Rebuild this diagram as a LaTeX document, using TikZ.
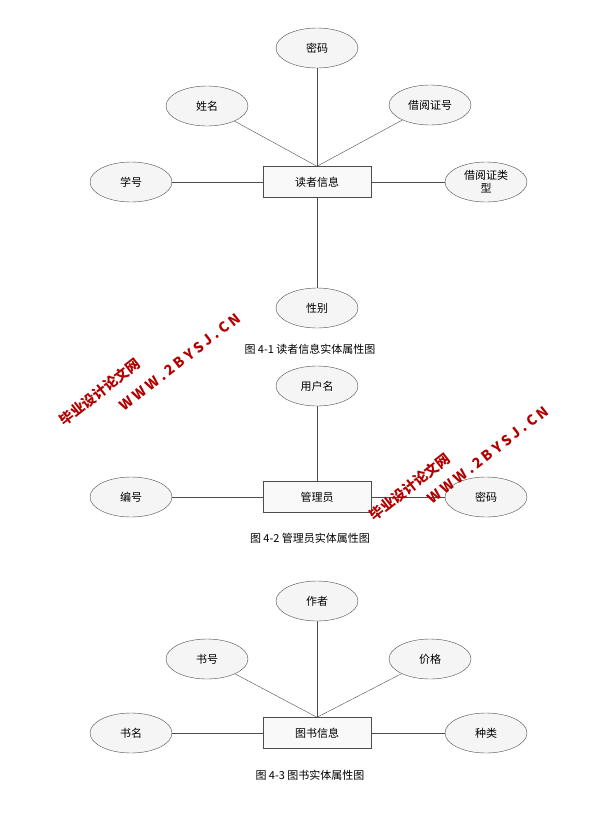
\documentclass[tikz,border=0pt]{standalone}
\usepackage{fontspec}
\setmainfont{Liberation Serif}
\newfontfamily\cjk{Noto Sans CJK SC}
\usetikzlibrary{shapes.geometric}
\begin{document}
\begin{tikzpicture}[x=1pt,y=-1pt,
  attr/.style={ellipse,draw=black!70,fill=gray!8,minimum width=82pt,minimum height=40pt,inner sep=0pt,align=center,font=\cjk\fontsize{11}{13}\selectfont},
  ent/.style={rectangle,draw=black!70,fill=gray!5,minimum width=108pt,minimum height=31pt,font=\cjk\fontsize{11}{13}\selectfont},
  captext/.style={font=\cjk\fontsize{11}{13}\selectfont},
  wm/.style={text=red!70!black,font=\cjk\bfseries\fontsize{14}{16}\selectfont,rotate=38,inner sep=0pt},
  ln/.style={draw=black!70}]
\useasboundingbox (0,0) rectangle (612,836);
% diagram 1
\node[ent] (r) at (317,182) {读者信息};
\node[attr] (r1) at (317,48) {密码};
\node[attr] (r2) at (207,106) {姓名};
\node[attr] (r3) at (430,105) {借阅证号};
\node[attr] (r4) at (131,182) {学号};
\node[attr] (r5) at (486,182) {借阅证类\\型};
\node[attr] (r6) at (317,308) {性别};
\draw[ln] (r1) -- (r.north);
\draw[ln] (r2) -- (r.north);
\draw[ln] (r3) -- (r.north);
\draw[ln] (r4) -- (r.west);
\draw[ln] (r5) -- (r.east);
\draw[ln] (r6) -- (r.south);
\node[captext] (c1) at (310,349) {图 4-1 读者信息实体属性图};
% diagram 2
\node[ent] (m) at (317,497) {管理员};
\node[attr] (m1) at (317,386) {用户名};
\node[attr] (m2) at (131,497) {编号};
\node[attr] (m3) at (486,497) {密码};
\draw[ln] (m1) -- (m.north);
\draw[ln] (m2) -- (m.west);
\draw[ln] (m3) -- (m.east);
\node[captext] (c2) at (310,538) {图 4-2 管理员实体属性图};
% diagram 3
\node[ent] (b) at (317,733) {图书信息};
\node[attr] (b1) at (317,601) {作者};
\node[attr] (b2) at (207,659) {书号};
\node[attr] (b3) at (430,659) {价格};
\node[attr] (b4) at (131,733) {书名};
\node[attr] (b5) at (486,733) {种类};
\draw[ln] (b1) -- (b.north);
\draw[ln] (b2) -- (b.north);
\draw[ln] (b3) -- (b.north);
\draw[ln] (b4) -- (b.west);
\draw[ln] (b5) -- (b.east);
\node[captext] (c3) at (310,775) {图 4-3 图书实体属性图};
% watermarks
\node[wm] (w1) at (100,392) {毕业设计论文网};
\node[wm] (w2) at (180,362) {W W W . 2 B Y S J . C N};
\node[wm] (w3) at (410,487) {毕业设计论文网};
\node[wm] (w4) at (488,455) {W W W . 2 B Y S J . C N};
\end{tikzpicture}
\end{document}
